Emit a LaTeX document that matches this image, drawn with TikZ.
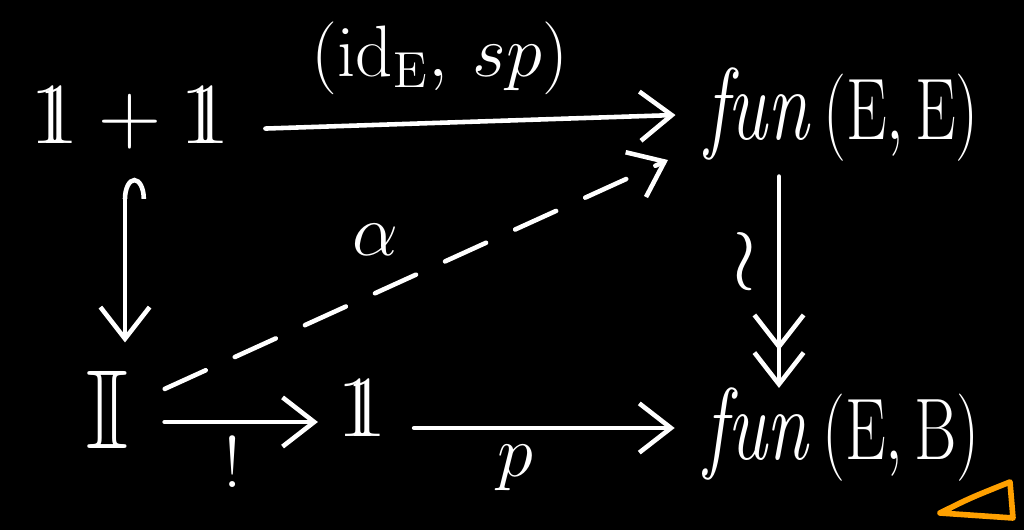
\documentclass[tikz,border=0pt]{standalone}
\usepackage{amssymb}
\usepackage{graphicx}
\usetikzlibrary{arrows.meta}
\definecolor{hlorange}{RGB}{255,160,0}
\newcommand{\bbo}{\mathrm{1\kern-0.28em 1}}
\newcommand{\funtxt}[1]{\scalebox{0.74}[1]{\textit{fun}\,$(\mathrm{E}{,}\,\mathrm{#1})$}}
\begin{document}
\begin{tikzpicture}[
  every node/.style={text=white, font=\fontsize{26}{30}\selectfont, inner sep=2pt},
  big/.style={font=\fontsize{32}{36}\selectfont},
  funfont/.style={font=\fontsize{29}{34}\selectfont},
  lbl/.style={font=\fontsize{22}{26}\selectfont},
  arr/.style={draw=white, line width=1.3pt, line cap=round, -{Straight Barb[length=9pt,width=14pt,line width=1.3pt]}},
  sarr/.style={draw=white, line width=1.3pt, line cap=round, -{Straight Barb[length=9pt,width=14pt,line width=1.3pt] Straight Barb[length=9pt,width=14pt,line width=1.3pt,sep=4pt]}},
  harr/.style={draw=white, line width=1.3pt, line cap=round, {Hooks[right,length=6pt,width=12pt,line width=1.3pt]}-{Straight Barb[length=9pt,width=14pt,line width=1.3pt]}},
]
\fill[black] (0,0) rectangle (10.24,5.30);
\useasboundingbox (0,0) rectangle (10.24,5.30);

\node[big] (A) at (1.30,4.12) {$\bbo+\bbo$};
\node[funfont] (B) at (8.42,4.15) {\funtxt{E}};
\node[big] (C) at (1.07,1.20) {$\mathbb{I}$};
\node[big] (D) at (3.62,1.22) {$\bbo$};
\node[funfont] (F) at (8.42,0.95) {\funtxt{B}};

\node[lbl] (lt) at (4.40,4.72) {$(\mathrm{id}_{\mathrm{E}},\, sp)$};
\node[lbl] (la) at (3.75,2.90) {$\alpha$};
\node[lbl, font=\fontsize{34}{38}\selectfont] (lw) at (7.45,2.68) {$\wr$};
\node[lbl] (le) at (2.33,0.68) {$!$};
\node[lbl] (lp) at (5.15,0.62) {$p$};

\coordinate (hx) at (1.25,0);
\coordinate (bs) at (7.79,0);
\coordinate (bend) at (7.79,1.28);
\coordinate (by) at (0,1.08);
\coordinate (py) at (0,1.02);
\coordinate (dend) at (6.68,3.70);
\draw[arr] ([xshift=8pt,yshift=-3pt]A.east) -- ([xshift=-0.22cm]B.west);
\draw[harr] ([yshift=-6pt]A.south -| hx) -- ([yshift=6pt]C.north -| hx);
\draw[sarr] ([yshift=-2pt]B.south -| bs) -- (bend);
\draw[arr] (C.east |- by) ++(0.28,0) -- ([xshift=-0.12cm]D.west |- by);
\draw[arr] (D.east |- py) ++(0.2,0) -- ([xshift=-0.22cm]F.west |- py);
\draw[arr, dash pattern=on 0.45cm off 0.32cm] ([xshift=8pt,yshift=6pt]C.east) -- (dend);

\draw[hlorange, line width=1.6pt, line cap=round, line join=round] (9.40,0.17) .. controls (9.7,0.32) .. (10.10,0.48) -- (10.13,0.12) -- cycle;
\end{tikzpicture}
\end{document}
